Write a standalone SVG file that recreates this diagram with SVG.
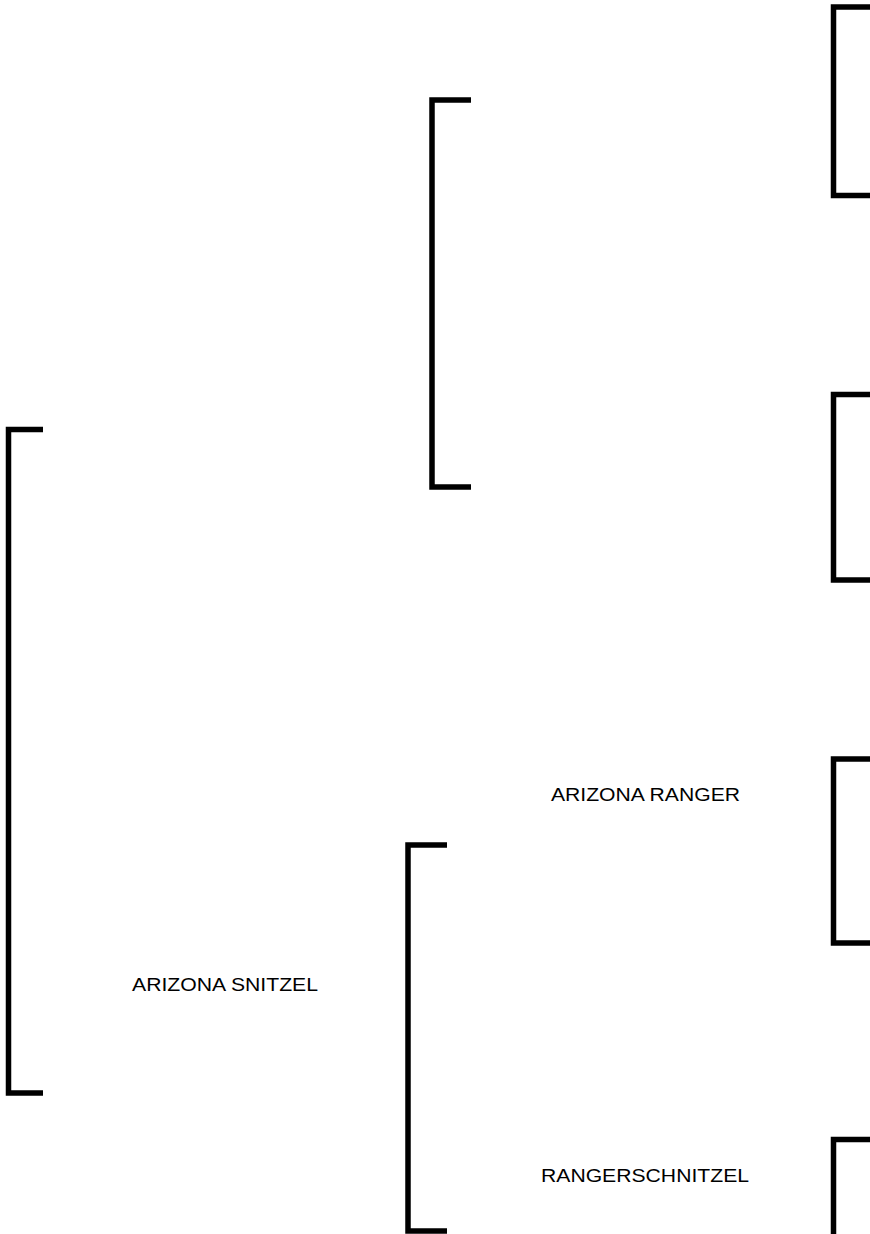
<svg xmlns="http://www.w3.org/2000/svg" width="870" height="1234" viewBox="0 0 870 1234">
<style>
.b{fill:none;stroke:#000;stroke-width:5.5;stroke-linecap:butt;stroke-linejoin:miter}
.t{font-family:"Liberation Sans",Arial,sans-serif;font-size:19px;fill:#000}
</style>
<rect width="870" height="1234" fill="#fff"/>
<g id="connectors">
<path id="br-root" class="b" d="M43,429.5 H8.5 V1093 H43"/>
<path id="br-upper" class="b" d="M471,100 H432 V487 H471"/>
<path id="br-lower" class="b" d="M447,845 H408 V1231 H447"/>
<path id="br-r1" class="b" d="M872,7 H833.5 V195.5 H872"/>
<path id="br-r2" class="b" d="M872,394.5 H833.5 V580 H872"/>
<path id="br-r3" class="b" d="M872,759 H833.5 V943 H872"/>
<path id="br-r4" class="b" d="M872,1139.5 H833.5 V1240"/>
</g>
<g id="node-arizona-snitzel"><text class="t" x="132" y="991" textLength="186" lengthAdjust="spacingAndGlyphs">ARIZONA SNITZEL</text></g>
<g id="node-arizona-ranger"><text class="t" x="551" y="801" textLength="189" lengthAdjust="spacingAndGlyphs">ARIZONA RANGER</text></g>
<g id="node-rangerschnitzel"><text class="t" x="541" y="1182" textLength="208" lengthAdjust="spacingAndGlyphs">RANGERSCHNITZEL</text></g>
</svg>
